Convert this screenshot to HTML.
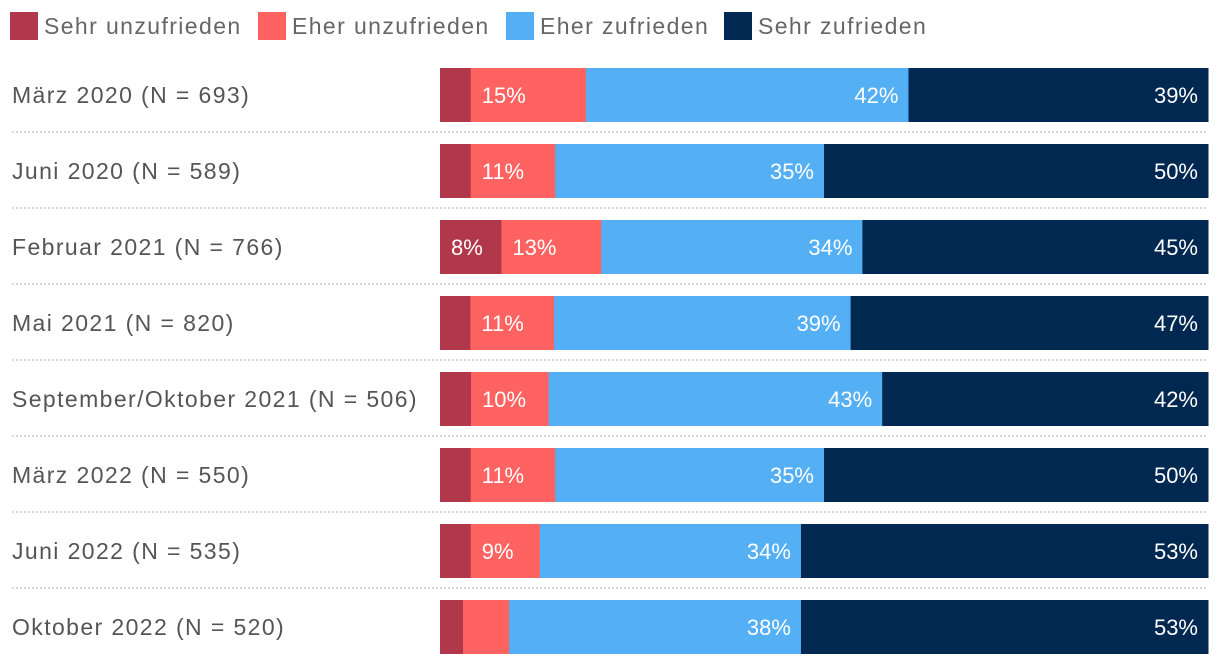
<!DOCTYPE html>
<html><head><meta charset="utf-8"><style>
body{margin:0;background:#fff;width:1220px;height:666px;overflow:hidden;font-family:"Liberation Sans",sans-serif;}
svg text{font-family:"Liberation Sans",sans-serif;}
</style></head><body>
<svg id="chart" width="1220" height="666"></svg>
<script>
const categories=["März 2020 (N = 693)","Juni 2020 (N = 589)","Februar 2021 (N = 766)","Mai 2021 (N = 820)","September/Oktober 2021 (N = 506)","März 2022 (N = 550)","Juni 2022 (N = 535)","Oktober 2022 (N = 520)"];
const seriesNames=["Sehr unzufrieden","Eher unzufrieden","Eher zufrieden","Sehr zufrieden"];
const sehrUnzufrieden=[4,4,8,4,4,4,4,3];
const eherUnzufrieden=[15,11,13,11,10,11,9,6];
const eherZufrieden=[42,35,34,39,43,35,34,38];
const sehrZufrieden=[39,50,45,47,42,50,53,53];
const series=[sehrUnzufrieden,eherUnzufrieden,eherZufrieden,sehrZufrieden];
const colors=["#B0384A","#FF6361","#55AFF5","#002850"];
const NS="http://www.w3.org/2000/svg";
const svg=document.getElementById('chart');
const x0=440,x1=1208,rowTop=68,rowStep=76,barH=54;
function mk(t,a,p){const e=document.createElementNS(NS,t);for(const k in a)e.setAttribute(k,a[k]);(p||svg).appendChild(e);return e;}
const legX=[10,258,506,724];
seriesNames.forEach((n,i)=>{
  const g=mk('g',{});
  
  
  mk('rect',{x:legX[i],y:12,width:28,height:28,fill:colors[i]},g);
  const t=mk('text',{x:legX[i]+34,y:34,'font-size':23,'letter-spacing':1.4,fill:'#666'},g);t.textContent=n;
});
categories.forEach((c,r)=>{
  const y=rowTop+r*rowStep;
  const lab=mk('text',{x:12,y:y+35,'font-size':23,'letter-spacing':1.4,fill:'#555'});
  
  
  lab.textContent=c;
  if(r<categories.length-1){
    const ln=mk('line',{x1:12,x2:1208,y1:y+barH+10,y2:y+barH+10,stroke:'#ccc','stroke-width':1.5,'stroke-dasharray':'2 2'});
    
    
  }
  const total=series.reduce((s,a)=>s+a[r],0);
  const sc=(x1-x0)/total;
  let cx=x0;
  series.forEach((arr,i)=>{
    const v=arr[r],w=v*sc;
    const b=mk('rect',{x:cx,y:y,width:w+0.5,height:barH,fill:colors[i]});
    
    
    if(v>=7){
      const left=i<2;
      const t=mk('text',{x:left?cx+11:cx+w-10,y:y+35,'font-size':22,fill:'#fff','text-anchor':left?'start':'end'});
      
      
      t.textContent=v+'%';
    }
    cx+=w;
  });
});
</script>
</body></html>
